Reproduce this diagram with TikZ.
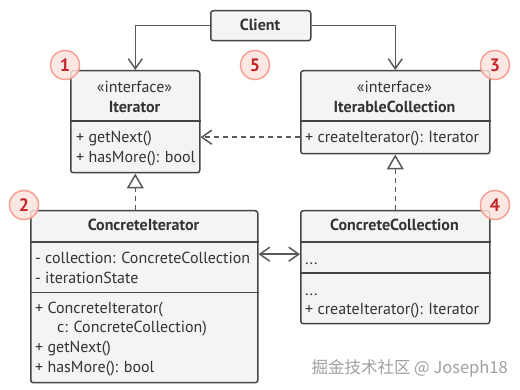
\documentclass[tikz,border=0pt]{standalone}
\usepackage{fontspec}
\setmainfont{PT Sans}
\newfontfamily\cjkfont{Noto Sans CJK SC}
\usetikzlibrary{arrows.meta}
\definecolor{boxfill}{HTML}{F4F4F4}
\definecolor{boxline}{HTML}{454545}
\definecolor{txt}{HTML}{333333}
\definecolor{conn}{HTML}{595959}
\definecolor{badgefill}{HTML}{FCE3DE}
\definecolor{badgeline}{HTML}{F4A193}
\definecolor{badgetxt}{HTML}{C4262B}
\definecolor{wm}{HTML}{A0A0A0}
\begin{document}
\begin{tikzpicture}[x=1pt,y=-1pt,
  umlbox/.style={draw=boxline, fill=boxfill, line width=1.5pt, rounded corners=2.5pt, inner sep=0pt, anchor=north west},
  part/.style={inner sep=0pt, anchor=north west},
  sep/.style={draw=boxline, line width=1.5pt},
  lbl/.style={font=\fontsize{16}{18}\selectfont, text=txt, inner sep=0pt, text height=15pt, text depth=3pt},
  lblw/.style={lbl, anchor=west},
  ttl/.style={lbl, font=\bfseries\fontsize{16}{18}\selectfont},
  conline/.style={draw=conn, line width=1.5pt},
  assoc/.style={conline, -{Straight Barb[length=10pt,width=14pt,line width=1.5pt]}},
  biassoc/.style={conline, {Straight Barb[length=10pt,width=14pt,line width=1.5pt]}-{Straight Barb[length=10pt,width=14pt,line width=1.5pt]}},
  dep/.style={assoc, dash pattern=on 5pt off 4pt},
  realize/.style={conline, dash pattern=on 5pt off 4pt, -{Triangle[length=15pt,width=17pt,fill=white,line width=1.5pt]}},
  badge/.style={circle, minimum size=29pt, inner sep=0pt, fill=badgefill, fill opacity=0.85, text opacity=1, draw=badgeline, line width=1.5pt, text=badgetxt, font=\bfseries\fontsize{18}{18}\selectfont}
]
\useasboundingbox (0,0) rectangle (520,390);

% Client
\node[umlbox, minimum width=100pt, minimum height=30pt] (client) at (210,10) {};
\node[ttl] (clientt) at (260,25) {Client};

% Iterator
\node[umlbox, minimum width=129pt, minimum height=102pt] (iter) at (70,70) {};
\node[part, minimum width=129pt, minimum height=51pt] (iterb) at (70,121) {};
\draw[sep] (iter.west |- iterb.north) -- (iter.east |- iterb.north);
\node[lbl] (iters) at (134.5,87) {«interface»};
\node[ttl] (itert) at (134.5,107) {Iterator};
\node[lblw] (iterm1) at (76,137) {+ getNext()};
\node[lblw] (iterm2) at (76,157) {+ hasMore(): bool};

% IterableCollection
\node[umlbox, minimum width=189pt, minimum height=83pt] (icoll) at (300,70) {};
\node[part, minimum width=189pt, minimum height=32pt] (icollb) at (300,121) {};
\draw[sep] (icoll.west |- icollb.north) -- (icoll.east |- icollb.north);
\node[lbl] (icolls) at (394.5,87) {«interface»};
\node[ttl] (icollt) at (394.5,107) {IterableCollection};
\node[lblw] (icollm1) at (305,137) {+ createIterator(): Iterator};

% ConcreteIterator
\node[umlbox, minimum width=227pt, minimum height=172pt] (citer) at (30,210) {};
\node[part, minimum width=227pt, minimum height=50pt] (citera) at (30,242) {};
\draw[sep] (citer.west |- citera.north) -- (citer.east |- citera.north);
\draw[sep] (citer.west |- citera.south) -- (citer.east |- citera.south);
\node[ttl] (citert) at (143.5,225) {ConcreteIterator};
\node[lblw] (citera1) at (35,258) {- collection: ConcreteCollection};
\node[lblw] (citera2) at (35,278) {- iterationState};
\node[lblw] (citerm1) at (35,308) {+ ConcreteIterator(};
\node[lblw] (citerm2) at (57,327) {c: ConcreteCollection)};
\node[lblw] (citerm3) at (35,347) {+ getNext()};
\node[lblw] (citerm4) at (35,367) {+ hasMore(): bool};

% ConcreteCollection
\node[umlbox, minimum width=189pt, minimum height=113pt] (ccoll) at (300,210) {};
\node[part, minimum width=189pt, minimum height=24pt] (ccolla) at (300,242) {};
\draw[sep] (ccoll.west |- 0,242) -- (ccoll.east |- 0,242);
\draw[sep] (ccoll.west |- 0,273) -- (ccoll.east |- 0,273);
\node[ttl] (ccollt) at (394.5,225) {ConcreteCollection};
\node[lblw] (ccolla1) at (305,259) {...};
\node[lblw] (ccollm1) at (305,290) {...};
\node[lblw] (ccollm2) at (305,309) {+ createIterator(): Iterator};

% connectors
\draw[assoc] (client.west) -| (iter.north);
\draw[assoc] (client.east) -| (icoll.north);
\draw[dep] (icollb.west) -- (icollb.west -| iter.east);
\draw[realize] (iter.south |- citer.north) -- (iter.south);
\draw[realize] (ccoll.north) -- (icoll.south);
\draw[biassoc] (citer.east |- ccolla.center) -- (ccolla.west);

% badges
\node[badge] (b1) at (65,65) {1};
\node[badge] (b5) at (255,65) {5};
\node[badge] (b3) at (495,65) {3};
\node[badge] (b2) at (24,205) {2};
\node[badge] (b4) at (495,205) {4};

% watermark
\node[anchor=east, inner sep=0pt, font=\cjkfont\fontsize{16.5}{16.5}\selectfont, text=wm] (wmark) at (508,368) {掘金技术社区 @ Joseph18};
\end{tikzpicture}
\end{document}
